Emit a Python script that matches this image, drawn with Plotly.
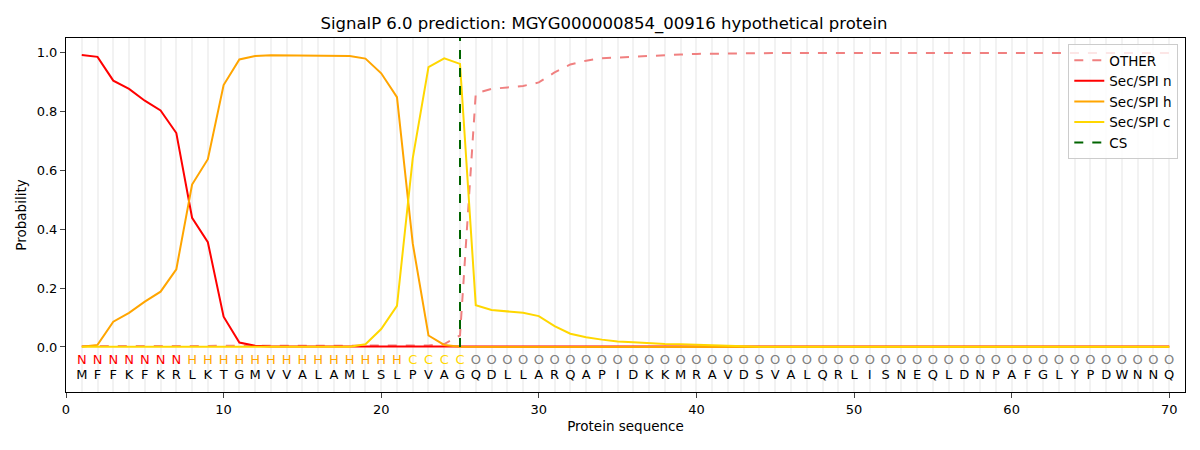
import plotly.graph_objects as go

sequence = list("MFFKFKRLKTGMVVALAMLSLPVAGQDLLARQAPIDKKMRAVDSVALQRLISNEQLDNPAFGLYPDWNNQ")
region_labels = list("N" * 7 + "H" * 14 + "C" * 4 + "O" * 45)
positions = list(range(1, 71))
cs_position = 25

# probabilities
other = [0.003] * 22 + [0.005, 0.01, 0.039, 0.862, 0.877, 0.882, 0.887, 0.899,
         0.933, 0.96, 0.973, 0.981, 0.984, 0.987, 0.99, 0.992, 0.994, 0.996,
         0.997, 0.998] + [0.999] * 28
sec_n = [0.992, 0.986, 0.905, 0.877, 0.837, 0.804, 0.727, 0.439, 0.356, 0.103,
         0.015, 0.004] + [0.002] * 58
sec_h = [0.001, 0.007, 0.086, 0.116, 0.154, 0.188, 0.264, 0.552, 0.638, 0.89,
         0.977, 0.989, 0.991, 0.991, 0.991, 0.991, 0.991, 0.989, 0.98, 0.93,
         0.849, 0.352, 0.039, 0.007, 0.001] + [0.0] * 45
sec_c = [0.001] * 18 + [0.009, 0.061, 0.14, 0.641, 0.951, 0.981, 0.962, 0.142,
         0.126, 0.12, 0.116, 0.105, 0.071, 0.045, 0.033, 0.025, 0.019, 0.016,
         0.012, 0.01, 0.009, 0.007, 0.005, 0.003] + [0.001] * 28

label_colors = {"N": "red", "H": "orange", "C": "gold", "O": "gray"}

fig = go.Figure()
fig.add_trace(go.Scatter(x=positions, y=other, mode="lines", name="OTHER",
                         line=dict(color="lightcoral", width=2, dash="dash")))
fig.add_trace(go.Scatter(x=positions, y=sec_n, mode="lines", name="Sec/SPI n",
                         line=dict(color="red", width=2)))
fig.add_trace(go.Scatter(x=positions, y=sec_h, mode="lines", name="Sec/SPI h",
                         line=dict(color="orange", width=2)))
fig.add_trace(go.Scatter(x=positions, y=sec_c, mode="lines", name="Sec/SPI c",
                         line=dict(color="gold", width=2)))
fig.add_trace(go.Scatter(x=[cs_position, cs_position], y=[0, 1.05], mode="lines",
                         name="CS", line=dict(color="darkgreen", width=2, dash="dash")))

# region letters and amino acids under the curves
fig.add_trace(go.Scatter(x=positions, y=[-0.048] * 70, mode="text", text=region_labels,
                         textfont=dict(size=13, color=[label_colors[c] for c in region_labels]),
                         showlegend=False, hoverinfo="skip"))
fig.add_trace(go.Scatter(x=positions, y=[-0.099] * 70, mode="text", text=sequence,
                         textfont=dict(size=13, color="black"),
                         showlegend=False, hoverinfo="skip"))

# page body has an 8px margin, so the figure is 8px smaller on each axis
fig.update_layout(
    width=1192, height=442,
    paper_bgcolor="white", plot_bgcolor="white",
    font=dict(family="DejaVu Sans", size=13, color="black"),
    margin=dict(l=58, r=15, t=30, b=58),
    title=dict(text="SignalP 6.0 prediction: MGYG000000854_00916 hypothetical protein",
               x=0.5, xanchor="center", y=0.966, yanchor="middle",
               font=dict(size=16.5)),
    legend=dict(x=0.994, y=0.983, xanchor="right", yanchor="top",
                bgcolor="rgba(255,255,255,0.8)", bordercolor="#cccccc", borderwidth=1,
                font=dict(size=13.5), tracegroupgap=0),
)
fig.update_xaxes(range=[0, 71], tickvals=list(range(0, 71, 10)), ticks="outside",
                 ticklen=5, showline=True, linecolor="black", mirror=True,
                 showgrid=True, gridcolor="#f2f2f2", gridwidth=2, zeroline=False,
                 minor=dict(dtick=1, tick0=0, showgrid=True, gridcolor="#f2f2f2", gridwidth=2),
                 automargin=False,
                 title=dict(text="Protein sequence", standoff=5, font=dict(size=13.5)))
fig.update_yaxes(range=[-0.153, 1.05], tickvals=[0, 0.2, 0.4, 0.6, 0.8, 1.0],
                 tickformat=".1f", ticks="outside", ticklen=5, showline=True,
                 linecolor="black", mirror=True, showgrid=False, zeroline=False,
                 automargin=False,
                 title=dict(text="Probability", standoff=6, font=dict(size=13.5)))

fig.write_html("out.html")
